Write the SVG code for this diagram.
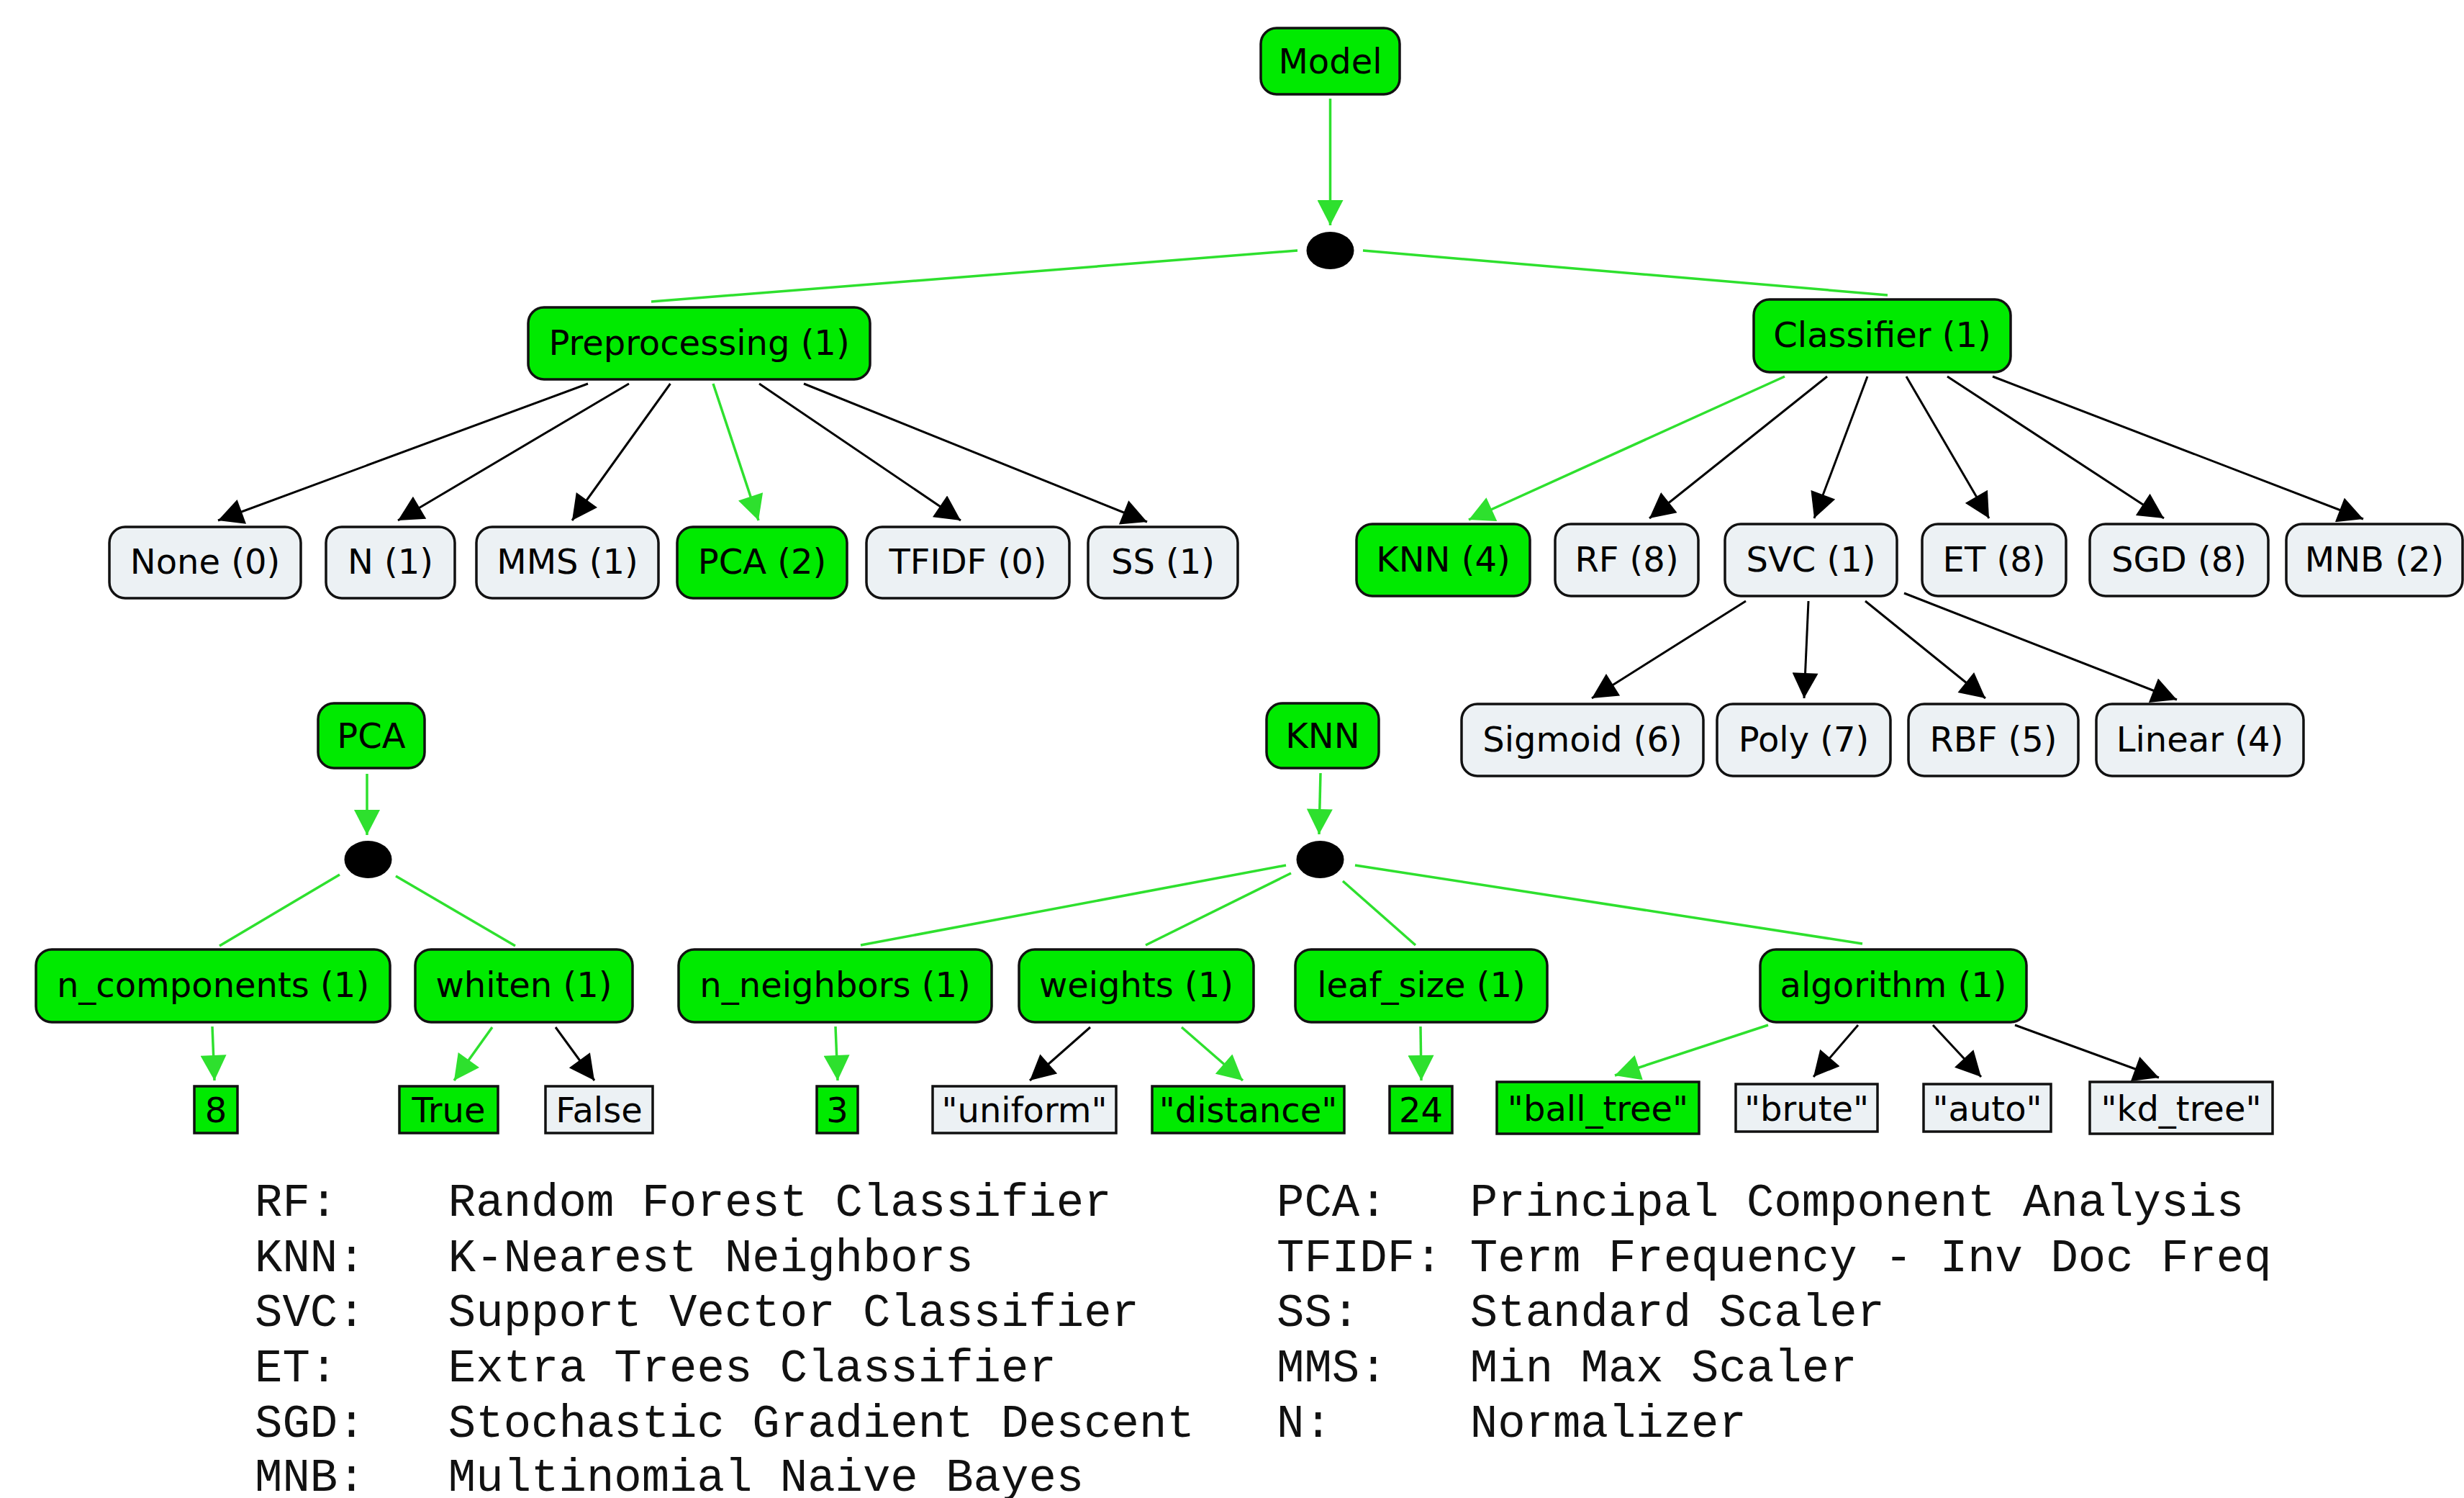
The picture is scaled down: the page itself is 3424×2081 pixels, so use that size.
<svg xmlns="http://www.w3.org/2000/svg" width="3424" height="2081" viewBox="0 0 3424 2081">
<defs>
<style>
.g rect{fill:#00ea00;stroke:#111;stroke-width:3.5}
.w rect{fill:#ecf1f4;stroke:#111;stroke-width:3.5}
.node text{font-family:"DejaVu Sans",Verdana,sans-serif;font-size:48px;fill:#000;text-anchor:middle}
.dot{fill:#000}
.cb{stroke:#000;stroke-width:3;fill:none}
.cg{stroke:#2ee02e;stroke-width:3.5;fill:none}
.legend text{font-family:"Liberation Mono","Courier New",monospace;font-size:64px;fill:#111;white-space:pre}
</style>
<marker id="ab" markerUnits="userSpaceOnUse" markerWidth="36" markerHeight="36" viewBox="0 0 34 35" refX="34" refY="17.5" orient="auto"><path d="M0,0 L34,17.5 L0,35 z" fill="#000"/></marker>
<marker id="ag" markerUnits="userSpaceOnUse" markerWidth="36" markerHeight="36" viewBox="0 0 34 35" refX="34" refY="17.5" orient="auto"><path d="M0,0 L34,17.5 L0,35 z" fill="#2ee02e"/></marker>
</defs>
<rect width="3424" height="2081" fill="#fff"/>

<g id="connectors">
<line class="cg" x1="1848.5" y1="137" x2="1848.5" y2="313" marker-end="url(#ag)"/>
<line class="cg" x1="1803" y1="348" x2="905" y2="419"/>
<line class="cg" x1="1894" y1="348" x2="2623" y2="410"/>

<line class="cb" x1="817" y1="533" x2="303" y2="723" marker-end="url(#ab)"/>
<line class="cb" x1="874" y1="533" x2="553" y2="723" marker-end="url(#ab)"/>
<line class="cb" x1="931.5" y1="533" x2="795" y2="723" marker-end="url(#ab)"/>
<line class="cg" x1="991" y1="533" x2="1054" y2="723" marker-end="url(#ag)"/>
<line class="cb" x1="1055" y1="533" x2="1335" y2="723" marker-end="url(#ab)"/>
<line class="cb" x1="1117" y1="533" x2="1594" y2="725" marker-end="url(#ab)"/>

<line class="cg" x1="2480" y1="523" x2="2041" y2="722" marker-end="url(#ag)"/>
<line class="cb" x1="2539" y1="523" x2="2292" y2="720" marker-end="url(#ab)"/>
<line class="cb" x1="2595" y1="523" x2="2521" y2="720" marker-end="url(#ab)"/>
<line class="cb" x1="2649" y1="523" x2="2764" y2="720" marker-end="url(#ab)"/>
<line class="cb" x1="2706" y1="523" x2="3007" y2="720" marker-end="url(#ab)"/>
<line class="cb" x1="2769" y1="523" x2="3284" y2="721" marker-end="url(#ab)"/>

<line class="cb" x1="2426" y1="835" x2="2212" y2="970" marker-end="url(#ab)"/>
<line class="cb" x1="2513" y1="835" x2="2507" y2="970" marker-end="url(#ab)"/>
<line class="cb" x1="2592" y1="835" x2="2759" y2="970" marker-end="url(#ab)"/>
<line class="cb" x1="2646" y1="824" x2="3025" y2="972" marker-end="url(#ab)"/>

<line class="cg" x1="510" y1="1075" x2="510" y2="1160" marker-end="url(#ag)"/>
<line class="cg" x1="472" y1="1215" x2="305" y2="1314"/>
<line class="cg" x1="550" y1="1217" x2="716" y2="1314"/>
<line class="cg" x1="295" y1="1426" x2="298" y2="1501" marker-end="url(#ag)"/>
<line class="cg" x1="684" y1="1427" x2="631" y2="1501" marker-end="url(#ag)"/>
<line class="cb" x1="772" y1="1427" x2="826" y2="1501" marker-end="url(#ab)"/>

<line class="cg" x1="1835" y1="1074" x2="1833" y2="1159" marker-end="url(#ag)"/>
<line class="cg" x1="1787" y1="1202" x2="1196" y2="1313"/>
<line class="cg" x1="1794" y1="1213" x2="1592" y2="1313"/>
<line class="cg" x1="1866" y1="1224" x2="1967" y2="1313"/>
<line class="cg" x1="1883" y1="1202" x2="2588" y2="1311"/>
<line class="cg" x1="1161" y1="1426" x2="1164" y2="1501" marker-end="url(#ag)"/>
<line class="cb" x1="1515" y1="1427" x2="1431" y2="1501" marker-end="url(#ab)"/>
<line class="cg" x1="1642" y1="1427" x2="1727" y2="1501" marker-end="url(#ag)"/>
<line class="cg" x1="1974" y1="1426" x2="1975" y2="1501" marker-end="url(#ag)"/>
<line class="cg" x1="2457" y1="1424" x2="2244" y2="1494" marker-end="url(#ag)"/>
<line class="cb" x1="2582" y1="1424" x2="2520" y2="1496" marker-end="url(#ab)"/>
<line class="cb" x1="2686" y1="1424" x2="2753" y2="1496" marker-end="url(#ab)"/>
<line class="cb" x1="2800" y1="1424" x2="3000" y2="1497" marker-end="url(#ab)"/>
</g>

<g id="n-model" class="node g"><rect x="1752" y="39" width="193" height="92" rx="22"/><text x="1848.5" y="102">Model</text></g>
<ellipse id="j-root" class="dot" cx="1848.5" cy="348" rx="33" ry="26"/>

<g id="n-preprocessing" class="node g"><rect x="734" y="427" width="475" height="100" rx="22"/><text x="971.5" y="493">Preprocessing (1)</text></g>
<g id="n-classifier" class="node g"><rect x="2437" y="416" width="357" height="101" rx="22"/><text x="2615.5" y="482">Classifier (1)</text></g>

<g id="n-none" class="node w"><rect x="152" y="732" width="266" height="99" rx="22"/><text x="285" y="797">None (0)</text></g>
<g id="n-n" class="node w"><rect x="453" y="732" width="179" height="99" rx="22"/><text x="542.5" y="797">N (1)</text></g>
<g id="n-mms" class="node w"><rect x="662" y="732" width="253" height="99" rx="22"/><text x="788.5" y="797">MMS (1)</text></g>
<g id="n-pca2" class="node g"><rect x="941" y="732" width="236" height="99" rx="22"/><text x="1059" y="797">PCA (2)</text></g>
<g id="n-tfidf" class="node w"><rect x="1204" y="732" width="282" height="99" rx="22"/><text x="1345" y="797">TFIDF (0)</text></g>
<g id="n-ss" class="node w"><rect x="1512" y="732" width="208" height="99" rx="22"/><text x="1616" y="797">SS (1)</text></g>

<g id="n-knn4" class="node g"><rect x="1885" y="728" width="241" height="100" rx="22"/><text x="2005.5" y="794">KNN (4)</text></g>
<g id="n-rf" class="node w"><rect x="2161" y="728" width="199" height="100" rx="22"/><text x="2260.5" y="794">RF (8)</text></g>
<g id="n-svc" class="node w"><rect x="2397" y="728" width="239" height="100" rx="22"/><text x="2516.5" y="794">SVC (1)</text></g>
<g id="n-et" class="node w"><rect x="2671" y="728" width="200" height="100" rx="22"/><text x="2771" y="794">ET (8)</text></g>
<g id="n-sgd" class="node w"><rect x="2904" y="728" width="248" height="100" rx="22"/><text x="3028" y="794">SGD (8)</text></g>
<g id="n-mnb" class="node w"><rect x="3177" y="728" width="245" height="100" rx="22"/><text x="3299.5" y="794">MNB (2)</text></g>

<g id="n-sigmoid" class="node w"><rect x="2031" y="978" width="336" height="100" rx="22"/><text x="2199" y="1044">Sigmoid (6)</text></g>
<g id="n-poly" class="node w"><rect x="2386" y="978" width="241" height="100" rx="22"/><text x="2506.5" y="1044">Poly (7)</text></g>
<g id="n-rbf" class="node w"><rect x="2652" y="978" width="236" height="100" rx="22"/><text x="2770" y="1044">RBF (5)</text></g>
<g id="n-linear" class="node w"><rect x="2913" y="978" width="288" height="100" rx="22"/><text x="3057" y="1044">Linear (4)</text></g>

<g id="n-pca" class="node g"><rect x="442" y="977" width="148" height="90" rx="22"/><text x="516" y="1039">PCA</text></g>
<ellipse id="j-pca" class="dot" cx="511.5" cy="1194" rx="33" ry="26"/>
<g id="n-knn" class="node g"><rect x="1760" y="977" width="156" height="90" rx="22"/><text x="1838" y="1039">KNN</text></g>
<ellipse id="j-knn" class="dot" cx="1834.5" cy="1194" rx="33" ry="26"/>

<g id="n-ncomp" class="node g"><rect x="50" y="1319" width="492" height="101" rx="22"/><text x="296" y="1385">n_components (1)</text></g>
<g id="n-whiten" class="node g"><rect x="577" y="1319" width="302" height="101" rx="22"/><text x="728" y="1385">whiten (1)</text></g>
<g id="n-nneigh" class="node g"><rect x="943" y="1319" width="435" height="101" rx="22"/><text x="1160.5" y="1385">n_neighbors (1)</text></g>
<g id="n-weights" class="node g"><rect x="1416" y="1319" width="326" height="101" rx="22"/><text x="1579" y="1385">weights (1)</text></g>
<g id="n-leaf" class="node g"><rect x="1800" y="1319" width="350" height="101" rx="22"/><text x="1975" y="1385">leaf_size (1)</text></g>
<g id="n-algo" class="node g"><rect x="2446" y="1319" width="370" height="101" rx="22"/><text x="2631" y="1385">algorithm (1)</text></g>

<g id="v-8" class="node g"><rect x="270" y="1509" width="60" height="65"/><text x="300" y="1559">8</text></g>
<g id="v-true" class="node g"><rect x="555" y="1509" width="137" height="65"/><text x="623.5" y="1559">True</text></g>
<g id="v-false" class="node w"><rect x="758" y="1509" width="149" height="65"/><text x="832.5" y="1559">False</text></g>
<g id="v-3" class="node g"><rect x="1135" y="1509" width="57" height="65"/><text x="1163.5" y="1559">3</text></g>
<g id="v-uniform" class="node w"><rect x="1296" y="1509" width="255" height="65"/><text x="1423.5" y="1559">"uniform"</text></g>
<g id="v-distance" class="node g"><rect x="1601" y="1509" width="267" height="65"/><text x="1734.5" y="1559">"distance"</text></g>
<g id="v-24" class="node g"><rect x="1931" y="1509" width="87" height="65"/><text x="1974.5" y="1559">24</text></g>
<g id="v-balltree" class="node g"><rect x="2080" y="1503" width="281" height="72"/><text x="2220.5" y="1557">"ball_tree"</text></g>
<g id="v-brute" class="node w"><rect x="2412" y="1506" width="197" height="66"/><text x="2510.5" y="1557">"brute"</text></g>
<g id="v-auto" class="node w"><rect x="2673" y="1506" width="177" height="66"/><text x="2761.5" y="1557">"auto"</text></g>
<g id="v-kdtree" class="node w"><rect x="2904" y="1503" width="254" height="72"/><text x="3031" y="1557">"kd_tree"</text></g>

<g id="legend" class="legend">
<text x="354" y="1689" xml:space="preserve">RF:    Random Forest Classifier</text>
<text x="354" y="1766" xml:space="preserve">KNN:   K-Nearest Neighbors</text>
<text x="354" y="1842" xml:space="preserve">SVC:   Support Vector Classifier</text>
<text x="354" y="1919" xml:space="preserve">ET:    Extra Trees Classifier</text>
<text x="354" y="1996" xml:space="preserve">SGD:   Stochastic Gradient Descent</text>
<text x="354" y="2071" xml:space="preserve">MNB:   Multinomial Naive Bayes</text>
<text x="1774" y="1689" xml:space="preserve">PCA:   Principal Component Analysis</text>
<text x="1774" y="1766" xml:space="preserve">TFIDF: Term Frequency - Inv Doc Freq</text>
<text x="1774" y="1842" xml:space="preserve">SS:    Standard Scaler</text>
<text x="1774" y="1919" xml:space="preserve">MMS:   Min Max Scaler</text>
<text x="1774" y="1996" xml:space="preserve">N:     Normalizer</text>
</g>
</svg>
